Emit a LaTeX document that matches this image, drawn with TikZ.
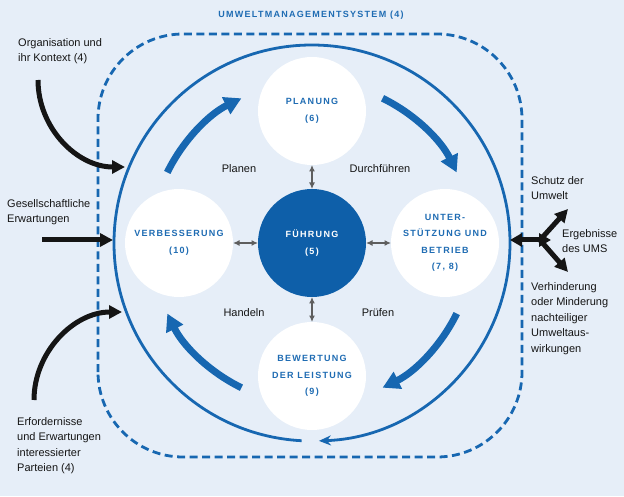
\documentclass[tikz,border=0pt]{standalone}
\usepackage{fontspec}
\setmainfont{Liberation Sans}
\newfontfamily\capfont[LetterSpace=14]{Liberation Sans}
\usetikzlibrary{arrows.meta}
\definecolor{bg}{HTML}{E6EEF8}
\definecolor{umsblue}{HTML}{1767B1}
\definecolor{fblue}{HTML}{0E5FA9}
\definecolor{lblue}{HTML}{1F6CB3}
\definecolor{arrgray}{HTML}{5E5E5E}
\definecolor{blk}{HTML}{151515}
\begin{document}
\begin{tikzpicture}[x=1pt,y=1pt,
  phase/.style={circle, fill=white, minimum size=108pt, inner sep=0pt, outer sep=0pt, align=center,
    font=\capfont\bfseries\fontsize{9}{16.5}\selectfont, text=lblue},
  lead/.style={phase, fill=fblue, text=white},
  garr/.style={{Latex[length=6.5pt,width=6pt]}-{Latex[length=6.5pt,width=6pt]}, draw=arrgray, line width=1.3pt},
  cyclearr/.style={line width=7pt, draw=umsblue, -{Triangle[length=17pt,width=18pt]}},
  ext/.style={line width=5pt, draw=blk, -{Triangle[length=13pt,width=13pt]}},
  txt/.style={font=\fontsize{11}{15.5}\selectfont, align=left, inner sep=0pt, anchor=north west, text=blk},
  lab/.style={font=\fontsize{11}{13}\selectfont, inner sep=0pt, text=blk},
  title/.style={font=\capfont\bfseries\fontsize{9}{10}\selectfont, text=lblue}
]
\fill[bg] (0,0) rectangle (624,496);
\useasboundingbox (0,0) rectangle (624,496);

% system boundary
\draw[umsblue, line width=2.8pt, dash pattern=on 8pt off 4.5pt, rounded corners=85pt] (98,39) rectangle (522,462);
\node[title] (ttl) at (311,481) {UMWELTMANAGEMENTSYSTEM (4)};

% big cycle
\coordinate (C) at (312,253);
\draw[umsblue, line width=2.8pt, -{Stealth[length=12pt,width=10pt]}] (C) ++(267:198) arc[start angle=267, end angle=-88, radius=198];

% phases
\node[phase] (plan) at (312,385) {PLANUNG\\(6)};
\node[lead]  (fue)  at (312,253) {FÜHRUNG\\(5)};
\node[phase] (verb) at (179,253) {VERBESSERUNG\\(10)};
\node[phase] (unt)  at (445,253) {UNTER-\\STÜTZUNG UND\\BETRIEB\\(7, 8)};
\node[phase] (bew)  at (312,120) {BEWERTUNG\\DER LEISTUNG\\(9)};

\draw[garr] (fue) -- (plan);
\draw[garr] (fue) -- (verb);
\draw[garr] (fue) -- (unt);
\draw[garr] (fue) -- (bew);

% PDCA arrows
\draw[cyclearr] (C) ++(154:161) arc[start angle=154, end angle=116, radius=161];
\draw[cyclearr] (C) ++(64:161) arc[start angle=64, end angle=26, radius=161];
\draw[cyclearr] (C) ++(-26:161) arc[start angle=-26, end angle=-64, radius=161];
\draw[cyclearr] (C) ++(-116:161) arc[start angle=-116, end angle=-154, radius=161];

\node[lab] (planen) at (239,327) {Planen};
\node[lab] (durch)  at (380,327) {Durchführen};
\node[lab] (handeln) at (244,183) {Handeln};
\node[lab] (pruefen) at (378,183) {Prüfen};

% inputs
\node[txt] (org) at (18,458) {Organisation und\\ihr Kontext (4)};
\node[txt] (ges) at (7,297) {Gesellschaftliche\\Erwartungen};
\node[txt] (erf) at (17,79) {Erfordernisse\\und Erwartungen\\interessierter\\Parteien (4)};

\coordinate (orgS) at (38,416);
\coordinate (orgE) at (125,329);
\draw[ext] (orgS) .. controls (38,368) and (77,329) .. (orgE);
\coordinate (gesS) at (42,256);
\coordinate (gesE) at (113,256);
\draw[ext] (gesS) -- (gesE);
\coordinate (erfS) at (34,96);
\coordinate (erfE) at (122,184);
\draw[ext] (erfS) .. controls (34,144) and (74,184) .. (erfE);

% outputs
\node[txt] (schutz) at (531,320) {Schutz der\\Umwelt};
\node[txt] (erg) at (562,267) {Ergebnisse\\des UMS};
\node[txt] (verh) at (531,214) {Verhinderung\\oder Minderung\\nachteiliger\\Umweltaus-\\wirkungen};

\coordinate (outL) at (510,256);
\coordinate (outR) at (551,256);
\coordinate (fork) at (540,256);
\coordinate (outU) at (568,287);
\coordinate (outD) at (568,224);
\draw[line width=5pt, draw=blk, {Triangle[length=12pt,width=13pt]}-{Triangle[length=12pt,width=13pt]}] (outL) -- (outR);
\draw[ext] (fork) -- (outU);
\draw[ext] (fork) -- (outD);
\end{tikzpicture}
\end{document}
